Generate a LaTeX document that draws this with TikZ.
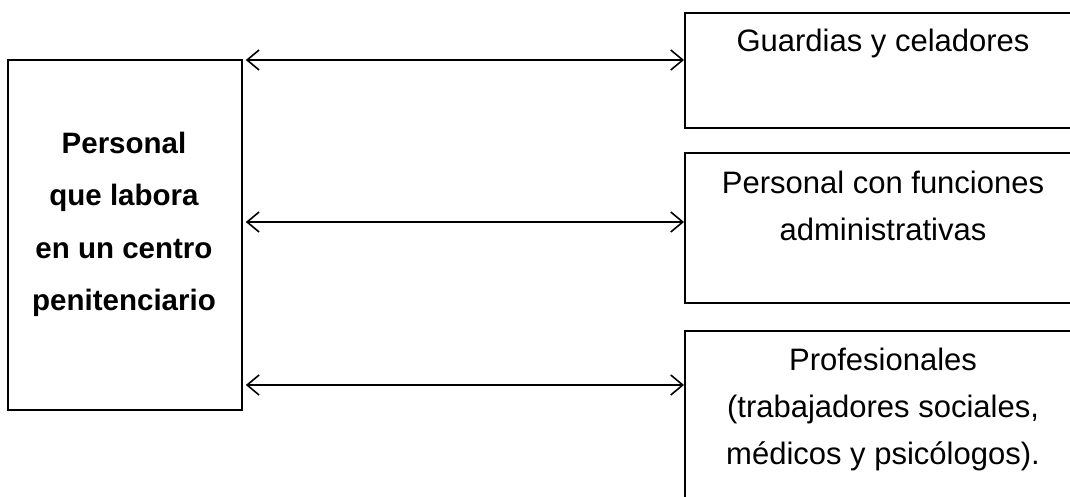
\documentclass[tikz,border=0pt]{standalone}
\usepackage{fontspec}
\setmainfont{Liberation Sans}
\usetikzlibrary{arrows.meta,positioning}
\tikzset{
  box/.style={draw,line width=1.8pt,rectangle,inner sep=0pt,anchor=north west},
  txt/.style={inner sep=0pt,align=center,anchor=base,font=\fontsize{31}{47}\selectfont},
  link/.style={line width=1.6pt,{Straight Barb[length=12pt,width=20pt,line width=1.6pt]}-{Straight Barb[length=12pt,width=20pt,line width=1.6pt]}}
}
\begin{document}
\begin{tikzpicture}[x=1pt,y=-1pt]
  \useasboundingbox (0,0) rectangle (1070,497);
  \clip (0,0) rectangle (1070,497);
  % main box
  \node[box,minimum width=234pt,minimum height=350pt] (staff) at (7,59) {};
  \node[txt,font=\bfseries\fontsize{29.5}{52.5}\selectfont] (stafftxt) at (124,310.5)
    {Personal\\que labora\\en un centro\\penitenciario};
  % three groups
  \node[box,minimum width=400pt,minimum height=115pt] (guards) at (684,12.5) {};
  \node[txt] (guardstxt) at (883,52) {Guardias y celadores};
  \node[box,minimum width=400pt,minimum height=150pt] (admin) at (684,152) {};
  \node[txt] (admintxt) at (883,240)
    {Personal con funciones\\administrativas};
  \node[box,minimum width=400pt,minimum height=200pt] (prof) at (684,330) {};
  \node[txt] (proftxt) at (883,464)
    {Profesionales\\(trabajadores sociales,\\médicos y psicólogos).};
  % arrows
  \draw[link] (staff.north east) ++(3,1) coordinate (a1) -- (a1 -| guards.west);
  \draw[link] (staff.east |- 0,222) ++(3,0) coordinate (a2) -- (a2 -| admin.west);
  \draw[link] (staff.east |- 0,385) ++(3,0) coordinate (a3) -- (a3 -| prof.west);
\end{tikzpicture}
\end{document}
